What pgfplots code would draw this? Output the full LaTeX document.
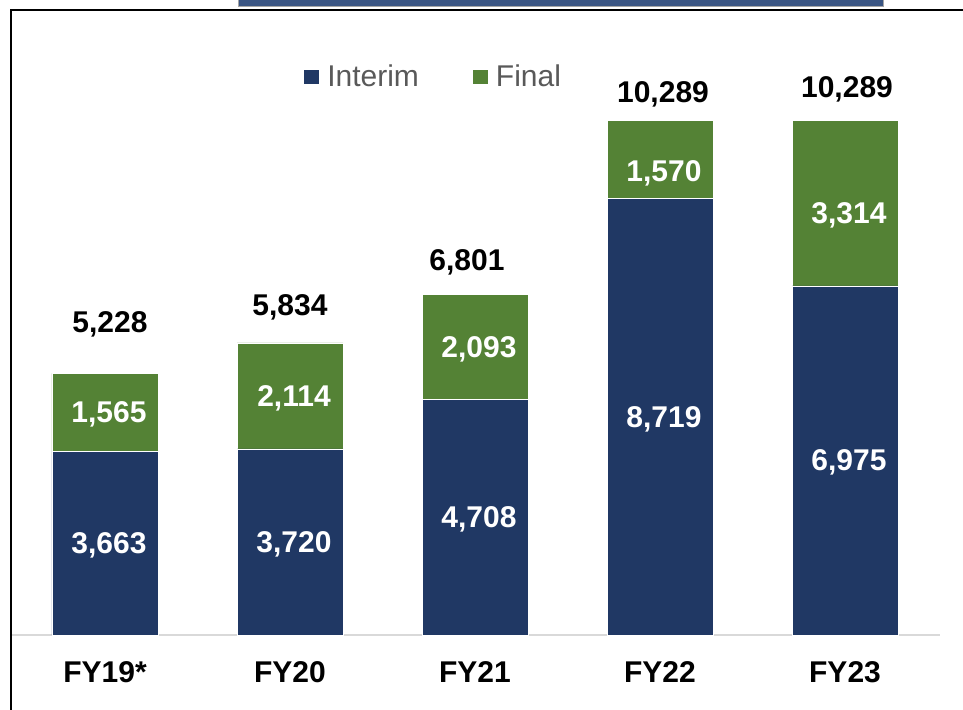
\documentclass[border=0pt]{standalone}
\usepackage{fontspec}
\setmainfont{Liberation Sans}
\usepackage{pgfplots}
\pgfplotsset{compat=1.18}
\usepackage{pgfplotstable}
\definecolor{navy}{HTML}{203864}
\definecolor{leaf}{HTML}{548235}
\definecolor{legtxt}{HTML}{595959}
\definecolor{topbar}{HTML}{3A5583}

% dividends per year, interim and final
\pgfplotstableread{
x interim final
0 3663 1565
1 3720 2114
2 4708 2093
3 8719 1570
4 6975 3314
}\dividends

\begin{document}
\begin{tikzpicture}[x=1pt,y=1pt,
  lbl/.style={font=\fontsize{15}{18}\selectfont\bfseries, inner sep=0pt, text depth=0pt},
  inbar/.style={lbl, text=white, xshift=2pt},
  total/.style={lbl, anchor=base}]
\useasboundingbox (0,0) rectangle (481.5,355);
\begin{axis}[
  at={(5pt,37.5pt)}, anchor=south west,
  scale only axis, width=465pt, height=312.25pt,
  ybar stacked, bar width=53pt,
  xmin=-0.5135, xmax=4.5135, ymin=0, ymax=12477,
  axis y line=none, axis x line*=bottom,
  x axis line style={draw=black!15, line width=0.75pt, -},
  xtick={0,1,2,3,4},
  xticklabels={FY19*,FY20,FY21,FY22,FY23},
  major tick length=0pt,
  xticklabel style={font=\fontsize{15}{18}\selectfont\bfseries, anchor=base, yshift=-24pt, inner sep=0pt},
  clip=false,
  legend columns=2,
  legend cell align=left,
  legend image code/.code={\fill[#1, draw=none] (0pt,-3.5pt) rectangle (7.5pt,3.5pt);},
  legend style={at={(0.316,0.893)}, anchor=west, draw=none, fill=none,
    inner sep=0pt, font=\fontsize{15}{18}\selectfont, text=legtxt,
    nodes={inner sep=0pt},
    /tikz/every odd column/.append style={column sep=4pt},
    /tikz/every even column/.append style={column sep=27pt}},
]
\addplot[fill=navy, draw=white, line width=0.25pt] table[x=x, y=interim] {\dividends};
\addlegendentry{Interim}
\addplot[fill=leaf, draw=white, line width=0.25pt] table[x=x, y=final] {\dividends};
\addlegendentry{Final}

% label anchors: inside each segment, and the totals above the bars
\coordinate (i0) at (axis cs:0,1831.5);
\coordinate (i1) at (axis cs:1,1860);
\coordinate (i2) at (axis cs:2,2354);
\coordinate (i3) at (axis cs:3,4359.5);
\coordinate (i4) at (axis cs:4,3487.5);
\coordinate (f0) at (axis cs:0,4445.5);
\coordinate (f1) at (axis cs:1,4777);
\coordinate (f2) at (axis cs:2,5754.5);
\coordinate (f3) at (axis cs:3,9270);
\coordinate (f4) at (axis cs:4,8431);
\coordinate (t0) at (axis cs:0,6053);
\coordinate (t1) at (axis cs:1,6393);
\coordinate (t2) at (axis cs:2,7292);
\coordinate (t3) at (axis cs:3,10648);
\coordinate (t4) at (axis cs:4,10729);
\end{axis}

\node[inbar] at (i0) {3,663};
\node[inbar] at (i1) {3,720};
\node[inbar] at (i2) {4,708};
\node[inbar] at (i3) {8,719};
\node[inbar] at (i4) {6,975};
\node[inbar] at (f0) {1,565};
\node[inbar] at (f1) {2,114};
\node[inbar] at (f2) {2,093};
\node[inbar] at (f3) {1,570};
\node[inbar] at (f4) {3,314};

\node[total, xshift=2.5pt] at (t0) {5,228};
\node[total] at (t1) {5,834};
\node[total, xshift=-4pt] at (t2) {6,801};
\node[total, xshift=1.5pt] at (t3) {10,289};
\node[total, xshift=1pt] at (t4) {10,289};

% frame and the edge of the box above
\draw[line width=1pt] (5.5,0) -- (5.5,349.75) -- (482,349.75);
\filldraw[fill=topbar, draw=gray!70, line width=0.5pt] (119,351.75) rectangle (441.5,357);
\end{tikzpicture}
\end{document}
